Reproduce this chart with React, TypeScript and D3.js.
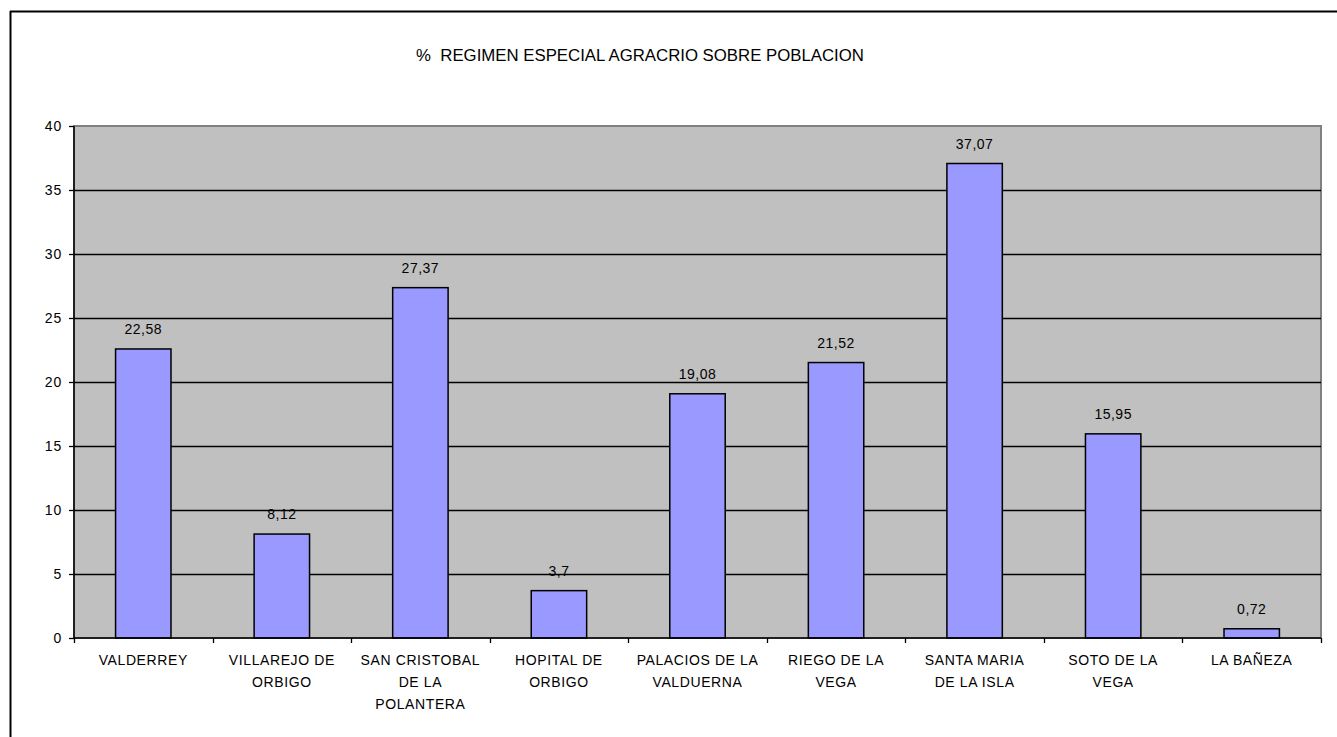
import React from "react";
import * as d3 from "d3";

const title = "%  REGIMEN ESPECIAL AGRACRIO SOBRE POBLACION";
const categories = [
  "VALDERREY",
  "VILLAREJO DE|ORBIGO",
  "SAN CRISTOBAL|DE LA|POLANTERA",
  "HOPITAL DE|ORBIGO",
  "PALACIOS DE LA|VALDUERNA",
  "RIEGO DE LA|VEGA",
  "SANTA MARIA|DE LA ISLA",
  "SOTO DE LA|VEGA",
  "LA BAÑEZA",
];
const values = [22.58, 8.12, 27.37, 3.7, 19.08, 21.52, 37.07, 15.95, 0.72];
const yTicks = [0, 5, 10, 15, 20, 25, 30, 35, 40];

const W = 1337;
const H = 737;
const left = 74;
const right = 1321;
const top = 126;
const bottom = 638;
const font = "'Liberation Sans', Arial, sans-serif";

export default function App() {
  const x = d3.scaleBand<string>().domain(categories).range([left, right]).paddingInner(0).paddingOuter(0);
  const y = d3.scaleLinear().domain([0, 40]).range([bottom, top]);
  const bw = x.bandwidth() * 0.4;
  const fmt = (v: number) => String(v).replace(".", ",");

  return (
    <svg width={W} height={H} style={{ position: "absolute", left: 0, top: 0, background: "#fff" }}>
      <rect x={0} y={0} width={W} height={H} fill="#fff" />
      <line x1={10.5} y1={11} x2={10.5} y2={H} stroke="#000" strokeWidth={2} />
      <line x1={10} y1={11.5} x2={W} y2={11.5} stroke="#000" strokeWidth={2} />
      <text x={640} y={61} textAnchor="middle" fontFamily={font} fontSize={16.8} fill="#000" style={{ whiteSpace: "pre" }}>
        {title}
      </text>
      <rect x={left} y={top} width={right - left} height={bottom - top} fill="#C0C0C0" stroke="#808080" strokeWidth={2} />
      {yTicks.map((t) => (
        <g key={t}>
          {t > 0 && t < 40 && (
            <line x1={left} x2={right} y1={Math.round(y(t)) + 0.5} y2={Math.round(y(t)) + 0.5} stroke="#000" strokeWidth={1.3} />
          )}
          <line x1={left - 5} x2={left} y1={Math.round(y(t)) + 0.5} y2={Math.round(y(t)) + 0.5} stroke="#000" strokeWidth={1.3} />
          <text x={62} y={y(t) + 5} textAnchor="end" fontFamily={font} fontSize={14} letterSpacing={0.8} fill="#000">
            {t}
          </text>
        </g>
      ))}
      {categories.map((c, i) => {
        const cx = (x(c) as number) + x.bandwidth() / 2;
        const by = y(values[i]);
        return (
          <g key={c}>
            <rect x={cx - bw / 2} y={by} width={bw} height={bottom - by} fill="#9999FF" stroke="#000" strokeWidth={1.5} />
            <text x={cx} y={by - 15} textAnchor="middle" fontFamily={font} fontSize={14} letterSpacing={0.5} fill="#000">
              {fmt(values[i])}
            </text>
            {c.split("|").map((ln, j) => (
              <text key={j} x={cx} y={665 + j * 22} textAnchor="middle" fontFamily={font} fontSize={14} letterSpacing={0.6} fill="#000">
                {ln}
              </text>
            ))}
          </g>
        );
      })}
      {d3.range(categories.length + 1).map((i) => {
        const xx = Math.round(left + i * x.bandwidth()) + 0.5;
        return <line key={i} x1={xx} x2={xx} y1={bottom} y2={bottom + 5} stroke="#000" strokeWidth={1.3} />;
      })}
      <line x1={left} x2={left} y1={top} y2={bottom} stroke="#000" strokeWidth={1.5} />
      <line x1={left} x2={right} y1={bottom} y2={bottom} stroke="#000" strokeWidth={1.5} />
    </svg>
  );
}
